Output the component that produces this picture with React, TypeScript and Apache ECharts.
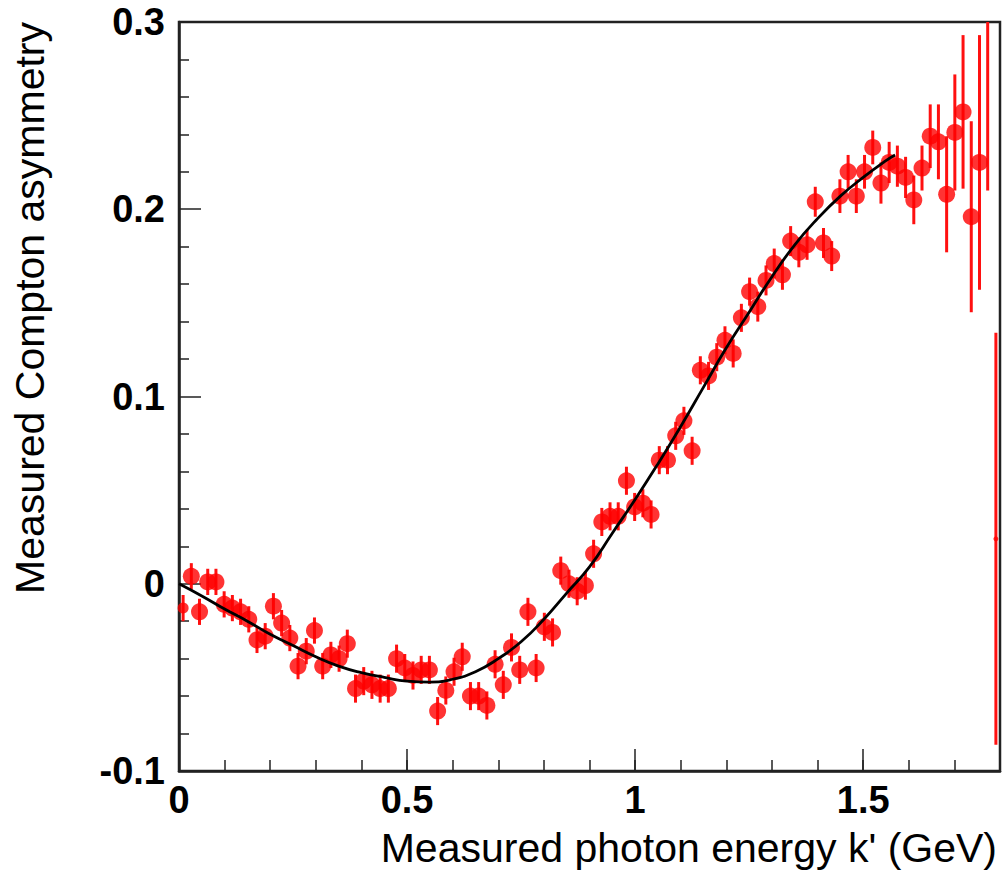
import React, { useEffect, useRef } from "react";
import * as echarts from "echarts";

// Measured photon energy k' (GeV), bin centres
const ENERGY = [
  0.009, 0.027, 0.045, 0.063, 0.081, 0.099, 0.117, 0.135, 0.153, 0.171,
  0.189, 0.207, 0.225, 0.243, 0.261, 0.279, 0.297, 0.315, 0.333, 0.351,
  0.369, 0.387, 0.405, 0.423, 0.441, 0.459, 0.477, 0.495, 0.513, 0.531,
  0.549, 0.567, 0.585, 0.603, 0.621, 0.639, 0.657, 0.675, 0.693, 0.711,
  0.729, 0.747, 0.765, 0.783, 0.801, 0.819, 0.837, 0.855, 0.873, 0.891,
  0.909, 0.927, 0.945, 0.963, 0.981, 0.999, 1.017, 1.035, 1.053, 1.071,
  1.089, 1.107, 1.125, 1.143, 1.161, 1.179, 1.197, 1.215, 1.233, 1.251,
  1.269, 1.287, 1.305, 1.323, 1.341, 1.359, 1.377, 1.395, 1.413, 1.431,
  1.449, 1.467, 1.485, 1.503, 1.521, 1.539, 1.557, 1.575, 1.593, 1.611,
  1.629, 1.647, 1.665, 1.683, 1.701, 1.719, 1.737, 1.755, 1.773, 1.791,
];

// Measured Compton asymmetry
const ASYM = [
  -0.013, 0.004, -0.015, 0.001, 0.001, -0.011, -0.013, -0.015, -0.019, -0.030,
  -0.028, -0.012, -0.021, -0.029, -0.044, -0.036, -0.025, -0.044, -0.038, -0.040,
  -0.032, -0.056, -0.052, -0.054, -0.056, -0.056, -0.040, -0.045, -0.049, -0.046,
  -0.046, -0.068, -0.057, -0.047, -0.039, -0.060, -0.060, -0.065, -0.043, -0.054,
  -0.034, -0.046, -0.015, -0.045, -0.023, -0.026, 0.007, 0.000, -0.004, -0.001,
  0.016, 0.033, 0.036, 0.036, 0.055, 0.041, 0.043, 0.037, 0.066, 0.066,
  0.079, 0.087, 0.071, 0.114, 0.111, 0.121, 0.130, 0.123, 0.142, 0.156,
  0.148, 0.162, 0.171, 0.165, 0.183, 0.177, 0.181, 0.204, 0.182, 0.175,
  0.207, 0.220, 0.207, 0.220, 0.233, 0.214, 0.225, 0.223, 0.217, 0.205,
  0.222, 0.239, 0.236, 0.208, 0.241, 0.252, 0.196, 0.225, 0.310, 0.024,
];

// Statistical errors
const ERR = [
  0.007, 0.007, 0.007, 0.007, 0.007, 0.007, 0.007, 0.007, 0.007, 0.007,
  0.007, 0.007, 0.007, 0.007, 0.007, 0.007, 0.007, 0.007, 0.007, 0.007,
  0.0075, 0.0075, 0.0075, 0.0075, 0.0075, 0.0075, 0.0075, 0.0075, 0.0075, 0.0075,
  0.0075, 0.0075, 0.0075, 0.0075, 0.0075, 0.0075, 0.0075, 0.0075, 0.0075, 0.0075,
  0.0075, 0.0075, 0.0075, 0.0075, 0.0075, 0.0075, 0.0075, 0.0075, 0.0075, 0.0075,
  0.0075, 0.0075, 0.0075, 0.0075, 0.0075, 0.0075, 0.0075, 0.0075, 0.0075, 0.0075,
  0.0075, 0.0075, 0.0075, 0.0075, 0.0075, 0.0075, 0.0075, 0.0075, 0.0075, 0.0075,
  0.008, 0.008, 0.008, 0.008, 0.008, 0.008, 0.008, 0.008, 0.008, 0.008,
  0.009, 0.009, 0.009, 0.009, 0.009, 0.011, 0.011, 0.011, 0.011, 0.013,
  0.012, 0.017, 0.020, 0.031, 0.031, 0.041, 0.051, 0.068, 0.100, 0.110,
];

// Fit curve
const FIT_X = [
  0, 0.05, 0.1, 0.15, 0.2, 0.25, 0.3, 0.35, 0.4, 0.45, 0.5, 0.55, 0.6, 0.65,
  0.7, 0.75, 0.8, 0.85, 0.9, 0.95, 1.0, 1.05, 1.1, 1.15, 1.2, 1.25, 1.3, 1.35,
  1.4, 1.45, 1.5, 1.55, 1.57,
];
const FIT_Y = [
  0, -0.0065, -0.0135, -0.02, -0.027, -0.033, -0.039, -0.044, -0.0475, -0.05,
  -0.052, -0.0525, -0.051, -0.047, -0.04, -0.031, -0.019, -0.005, 0.009, 0.027,
  0.045, 0.064, 0.084, 0.105, 0.126, 0.145, 0.164, 0.181, 0.195, 0.207, 0.217,
  0.226, 0.229,
];

const X_TITLE = "Measured photon energy k' (GeV)";
const Y_TITLE = "Measured Compton asymmetry";

const FONT = "'Liberation Sans', Arial, Helvetica, sans-serif";
const X_MIN = 0;
const X_MAX = 1.8;
const Y_MIN = -0.1;
const Y_MAX = 0.3;

export default function App() {
  const ref = useRef<HTMLDivElement>(null);

  useEffect(() => {
    if (!ref.current) return;
    const chart = echarts.init(ref.current, undefined, { renderer: "svg" });
    const points = ENERGY.map((x, i) => [x, ASYM[i], ERR[i]]);
    const fit = FIT_X.map((x, i) => [x, FIT_Y[i]]);
    const axisColor = "#222";
    // markers whose disc would cross the frame edge are drawn clipped (tiny)
    const edgeGap = 0.006;

    const option: any = {
      animation: false,
      backgroundColor: "#ffffff",
      grid: {
        left: 179,
        right: 3,
        top: 22,
        bottom: 99,
        show: true,
        borderColor: axisColor,
        borderWidth: 2.5,
        backgroundColor: "transparent",
      },
      xAxis: [
        {
          type: "value",
          min: X_MIN,
          max: X_MAX,
          interval: 0.5,
          axisLine: { show: true, onZero: false, lineStyle: { color: axisColor, width: 2.5 } },
          axisTick: { show: true, inside: true, length: 22, lineStyle: { color: axisColor, width: 1.5 } },
          axisLabel: {
            showMaxLabel: false,
            fontSize: 38,
            fontWeight: "bold",
            color: "#000",
            fontFamily: FONT,
            margin: 10,
          },
          splitLine: { show: false },
        },
        {
          type: "value",
          min: X_MIN,
          max: X_MAX,
          interval: 0.1,
          position: "bottom",
          axisLine: { show: false, onZero: false },
          axisTick: { show: true, inside: true, length: 11, lineStyle: { color: axisColor, width: 1.5 } },
          axisLabel: { show: false },
          splitLine: { show: false },
        },
      ],
      yAxis: {
        type: "value",
        min: Y_MIN,
        max: Y_MAX,
        interval: 0.1,
        axisLine: { show: true, onZero: false, lineStyle: { color: axisColor, width: 2.5 } },
        axisTick: { show: true, inside: true, length: 22, lineStyle: { color: axisColor, width: 1.5 } },
        minorTick: { show: true, splitNumber: 5, length: 10, lineStyle: { color: axisColor, width: 1.5 } },
        axisLabel: {
          fontSize: 38,
          fontWeight: "bold",
          color: "#000",
          fontFamily: FONT,
          margin: 14,
        },
        splitLine: { show: false },
        minorSplitLine: { show: false },
      },
      graphic: [
        {
          type: "text",
          x: 30,
          y: 22,
          rotation: Math.PI / 2,
          style: {
            text: Y_TITLE,
            fontSize: 41,
            fontFamily: FONT,
            fill: "#000",
            align: "right",
            verticalAlign: "middle",
          },
        },
        {
          type: "text",
          x: 997,
          y: 848,
          style: {
            text: X_TITLE,
            fontSize: 41,
            fontFamily: FONT,
            fill: "#000",
            align: "right",
            verticalAlign: "middle",
          },
        },
      ],
      series: [
        {
          type: "custom",
          name: "errors",
          data: points,
          encode: { x: 0, y: 1 },
          z: 2,
          renderItem: (_params: any, api: any) => {
            const x = api.value(0);
            const y = api.value(1);
            const e = api.value(2);
            const hi = Math.min(y + e, Y_MAX);
            const lo = Math.max(y - e, Y_MIN);
            if (hi <= lo) return null;
            const p1 = api.coord([x, hi]);
            const p2 = api.coord([x, lo]);
            return {
              type: "line",
              shape: { x1: p1[0], y1: p1[1], x2: p2[0], y2: p2[1] },
              style: { stroke: "#ff1010", lineWidth: 3 },
            };
          },
        },
        {
          type: "scatter",
          name: "data",
          data: points.map((p) => [p[0], p[1]]),
          symbol: "circle",
          symbolSize: (v: number[]) =>
            v[0] > X_MAX - edgeGap * 2 ? 5 : v[0] < X_MIN + edgeGap * 2 ? 11 : 17,
          clip: true,
          itemStyle: { color: "#ff0000" },
          z: 3,
        },
        {
          type: "line",
          name: "fit",
          data: fit,
          smooth: true,
          showSymbol: false,
          symbol: "none",
          clip: true,
          lineStyle: { color: "#000", width: 2.8 },
          z: 4,
        },
      ],
    };

    chart.setOption(option);
    return () => chart.dispose();
  }, []);

  return (
    <div
      ref={ref}
      style={{ position: "absolute", left: 0, top: 0, width: 1003, height: 870 }}
    />
  );
}
